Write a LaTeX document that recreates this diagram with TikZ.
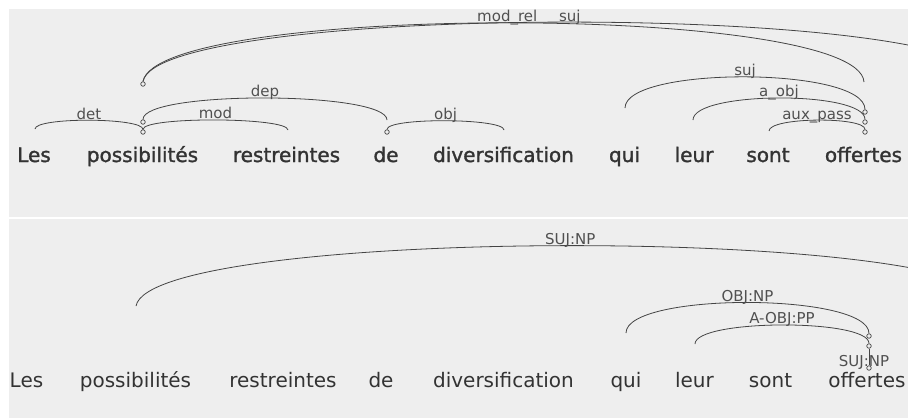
\documentclass[tikz,border=0pt]{standalone}
\usepackage{fontspec}
\setmainfont{DejaVu Sans}
\newfontfamily\heavyfont[FakeBold=1.5]{DejaVu Sans}
\definecolor{panelgray}{HTML}{EEEEEE}
\definecolor{inkgray}{HTML}{333333}
\definecolor{arcgray}{HTML}{444444}
\definecolor{labgray}{HTML}{505050}

\begin{document}
\begin{tikzpicture}[x=1pt,y=-1pt]

% definitions
\tikzstyle{panel} = [fill=panelgray]

\tikzstyle{word} = [anchor=base, inner sep=0pt, text=inkgray, font=\fontsize{20}{24}\selectfont]

\tikzstyle{topword} = [word, font=\heavyfont\fontsize{20}{24}\selectfont]

\tikzstyle{lab} = [anchor=base, inner sep=0pt, text=labgray, font=\fontsize{15}{18}\selectfont]

\tikzstyle{arclab} = [lab, yshift=1pt]

\tikzstyle{headdot} = [circle, draw=arcgray, fill=panelgray, inner sep=0pt, minimum size=4.5pt, line width=0.7pt]

\tikzstyle{deparc} = [draw=arcgray, line width=0.8pt]

% the panels
\useasboundingbox (0,0) rectangle (908,418);
\fill [white] (0,0) rectangle (908,418);
\fill [panel] (9,9) rectangle (908,217);
\fill [panel] (9,219) rectangle (908,418);

% the upper graph
\node (t0) [topword] at (34,162) {Les};
\node (t1) [topword] at (142.5,162) {possibilités};
\node (t2) [topword] at (286.5,162) {restreintes};
\node (t3) [topword] at (386,162) {de};
\node (t4) [topword] at (503.5,162) {diversification};
\node (t5) [topword] at (624.5,162) {qui};
\node (t6) [topword] at (694,162) {leur};
\node (t7) [topword] at (768,162) {sont};
\node (t8) [topword] at (863.5,162) {offertes};

\node (ph0) [headdot] at (143,84) {};
\node (ph1) [headdot] at (143,122) {};
\node (ph2) [headdot] at (143,132) {};
\node (dh) [headdot] at (387,132) {};
\node (oh0) [headdot] at (865,112) {};
\node (oh1) [headdot] at (865,122) {};
\node (oh2) [headdot] at (865,132) {};

\coordinate (lesend) at (35,129);
\coordinate (resend) at (288,130);
\coordinate (deend) at (387,120);
\coordinate (divend) at (504,130);
\coordinate (offend) at (864,82);
\coordinate (farend) at (989,82);
\coordinate (quiend) at (625,108);
\coordinate (leurend) at (693,120);
\coordinate (sontend) at (769,131);

\begin{scope}
\clip (9,9) rectangle (908,217);
\draw [deparc] (lesend) .. controls +(0,-12) and +(0,-12) .. (ph2.north) node (ldet) [arclab, pos=0.5] {det};
\draw [deparc] (ph2.north) .. controls +(0,-13) and +(0,-13) .. (resend) node (lmod) [arclab, pos=0.5] {mod};
\draw [deparc] (ph1.north) .. controls +(0,-29) and +(0,-29) .. (deend) node (ldep) [arclab, pos=0.5] {dep};
\draw [deparc] (dh.north) .. controls +(0,-12) and +(0,-12) .. (divend) node (lobj) [arclab, pos=0.5] {obj};
\draw [deparc] (ph0.north) .. controls +(15,-78) and +(-5,-79) .. (offend) node (lmodrel) [arclab, pos=0.5] {mod\_rel};
\draw [deparc] (ph0.north) .. controls +(15,-79) and +(-5,-80) .. (farend) node (lsujfar) [arclab, pos=0.5] {suj};
\draw [deparc] (quiend) .. controls +(0,-42) and +(0,-43) .. (oh0.north) node (lsuj) [arclab, pos=0.5] {suj};
\draw [deparc] (leurend) .. controls +(0,-29) and +(0,-29) .. (oh1.north) node (laobj) [arclab, pos=0.5] {a\_obj};
\draw [deparc] (sontend) .. controls +(0,-14) and +(0,-13) .. (oh2.north) node (lauxpass) [arclab, pos=0.5] {aux\_pass};
\end{scope}

% the lower graph
\node (b0) [word] at (26.5,387) {Les};
\node (b1) [word] at (135.5,387) {possibilités};
\node (b2) [word] at (283,387) {restreintes};
\node (b3) [word] at (381,387) {de};
\node (b4) [word] at (503.5,387) {diversification};
\node (b5) [word] at (626,387) {qui};
\node (b6) [word] at (694.5,387) {leur};
\node (b7) [word] at (770.5,387) {sont};
\node (b8) [word] at (867,387) {offertes};

\node (bh0) [headdot] at (869,336) {};
\node (bh1) [headdot] at (869,346) {};
\node (bh2) [headdot] at (869,368) {};

\coordinate (bposs) at (136,306);
\coordinate (bfar) at (997,306);
\coordinate (bqui) at (626,333);
\coordinate (bleur) at (695,344);

\begin{scope}
\clip (9,219) rectangle (908,418);
\draw [deparc] (bposs) .. controls +(15,-80) and +(-5,-81) .. (bfar) node (lsujnp) [arclab, pos=0.5] {SUJ:NP};
\draw [deparc] (bqui) .. controls +(0,-41) and +(0,-41) .. (bh0.north) node (lobjnp) [arclab, pos=0.5] {OBJ:NP};
\draw [deparc] (bleur) .. controls +(0,-25) and +(0,-25) .. (bh1.north) node (laobjpp) [arclab, pos=0.5] {A-OBJ:PP};
\draw [deparc] (bh1.south) -- (bh2.north) node (lsujself) [lab, pos=1, xshift=-5pt, yshift=-1pt] {SUJ:NP};
\end{scope}

\end{tikzpicture}
\end{document}
